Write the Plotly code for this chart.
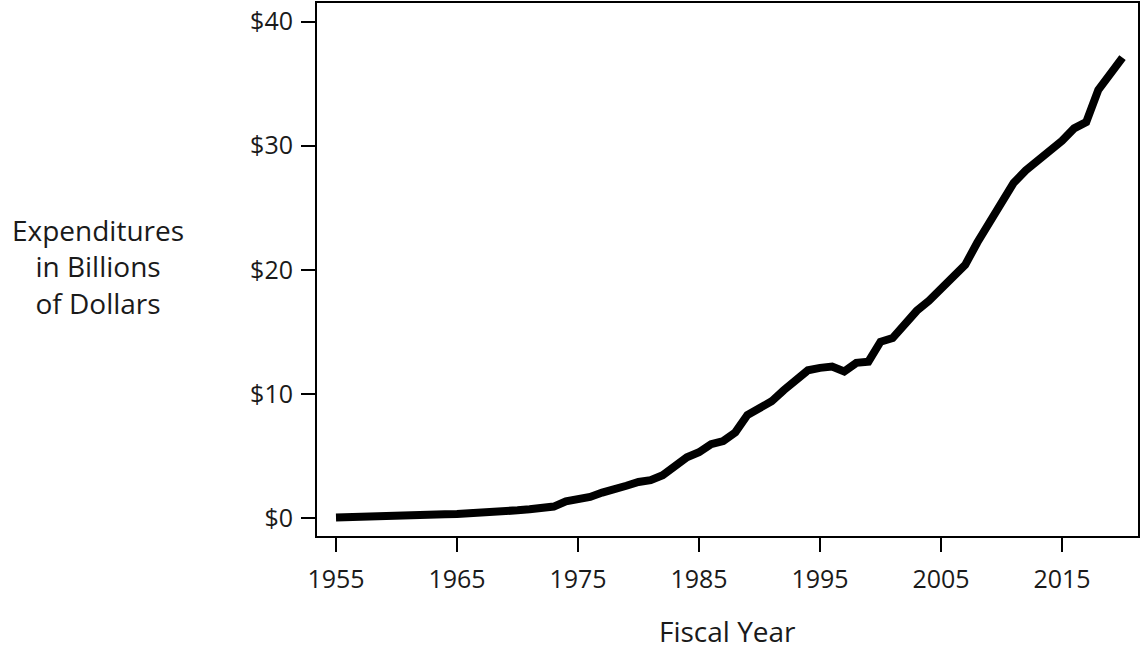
import plotly.graph_objects as go

years = list(range(1955, 2021))
expenditures = [
    0.05, 0.06, 0.07, 0.08, 0.09, 0.10, 0.15, 0.20, 0.25, 0.30,
    0.33, 0.36, 0.40, 0.47, 0.55, 0.62, 0.70, 0.82, 0.92, 1.35,
    1.45, 1.70, 2.05, 2.40, 2.60, 2.90, 3.05, 3.45, 4.20, 4.90,
    5.30, 5.95, 6.20, 6.90, 8.30, 8.90, 9.40, 10.30, 11.20, 11.90,
    12.10, 12.20, 11.80, 12.50, 12.60, 14.20, 14.50, 15.70, 16.70, 17.50,
    18.40, 19.50, 20.40, 22.20, 23.90, 25.40, 27.00, 28.00, 28.80, 29.50,
    30.40, 31.40, 31.90, 34.50, 35.80, 37.10,
]
x_ticks = [1955, 1965, 1975, 1985, 1995, 2005, 2015]
y_ticks = [0, 10, 20, 30, 40]
y_tick_labels = ["$0", "$10", "$20", "$30", "$40"]

FONT = "Open Sans"
TXT = "#1a1a1a"

fig = go.Figure()
fig.add_trace(go.Scatter(
    x=years, y=expenditures, mode="lines",
    line=dict(color="black", width=8),
    hoverinfo="skip",
))

fig.update_layout(
    width=1141, height=652,
    margin=dict(l=317, r=3, t=3, b=116),
    paper_bgcolor="white", plot_bgcolor="white",
    showlegend=False,
    font=dict(family=FONT, size=25, color=TXT),
    xaxis=dict(
        range=[1953.43, 2021.28],
        tickvals=x_ticks, ticktext=[str(v) for v in x_ticks],
        ticks="outside", ticklen=14, tickwidth=2, tickcolor="black",
        ticklabelstandoff=6,
        showline=True, linecolor="black", linewidth=2, mirror=True,
        showgrid=False, zeroline=False, automargin=False,
        tickfont=dict(family=FONT, size=25, color=TXT),
    ),
    yaxis=dict(
        range=[-1.45, 41.5],
        tickvals=y_ticks, ticktext=y_tick_labels,
        ticks="outside", ticklen=14, tickwidth=2, tickcolor="black",
        ticklabelstandoff=3,
        showline=True, linecolor="black", linewidth=2, mirror=True,
        showgrid=False, zeroline=False, automargin=False,
        tickfont=dict(family=FONT, size=25, color=TXT),
    ),
    annotations=[
        dict(text="Fiscal Year", x=0.5, y=-0.178, xref="paper", yref="paper",
             xanchor="center", yanchor="middle", showarrow=False,
             font=dict(family=FONT, size=28, color=TXT)),
        dict(text="Expenditures<br>in Billions<br>of Dollars", x=-0.2667, y=0.505,
             xref="paper", yref="paper", xanchor="center", yanchor="middle",
             align="center", showarrow=False,
             font=dict(family=FONT, size=28, color=TXT)),
    ],
)

fig.write_html("out.html", config={"displayModeBar": False},
               post_script="document.body.style.margin='0';")
